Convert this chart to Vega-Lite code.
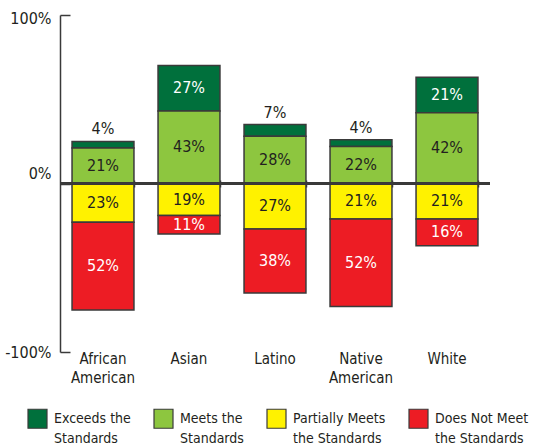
{
  "$schema": "https://vega.github.io/schema/vega-lite/v6.json",
  "width": 430,
  "height": 337,
  "autosize": {"type": "none"},
  "padding": {"left": 60, "top": 15, "right": 47, "bottom": 93},
  "background": "white",
  "config": {
    "font": "DejaVu Sans Condensed, Roboto",
    "view": {"stroke": null},
    "axis": {"labelFont": "DejaVu Sans Condensed, Roboto", "labelColor": "#231f20"},
    "legend": {"labelFont": "DejaVu Sans Condensed, Roboto", "labelColor": "#231f20"},
    "text": {"font": "DejaVu Sans Condensed, Roboto"}
  },
  "data": {
    "values": [
      {"group": "African American", "level": "Exceeds the Standards", "value": 4},
      {"group": "African American", "level": "Meets the Standards", "value": 21},
      {"group": "African American", "level": "Partially Meets the Standards", "value": -23},
      {"group": "African American", "level": "Does Not Meet the Standards", "value": -52},
      {"group": "Asian", "level": "Exceeds the Standards", "value": 27},
      {"group": "Asian", "level": "Meets the Standards", "value": 43},
      {"group": "Asian", "level": "Partially Meets the Standards", "value": -19},
      {"group": "Asian", "level": "Does Not Meet the Standards", "value": -11},
      {"group": "Latino", "level": "Exceeds the Standards", "value": 7},
      {"group": "Latino", "level": "Meets the Standards", "value": 28},
      {"group": "Latino", "level": "Partially Meets the Standards", "value": -27},
      {"group": "Latino", "level": "Does Not Meet the Standards", "value": -38},
      {"group": "Native American", "level": "Exceeds the Standards", "value": 4},
      {"group": "Native American", "level": "Meets the Standards", "value": 22},
      {"group": "Native American", "level": "Partially Meets the Standards", "value": -21},
      {"group": "Native American", "level": "Does Not Meet the Standards", "value": -52},
      {"group": "White", "level": "Exceeds the Standards", "value": 21},
      {"group": "White", "level": "Meets the Standards", "value": 42},
      {"group": "White", "level": "Partially Meets the Standards", "value": -21},
      {"group": "White", "level": "Does Not Meet the Standards", "value": -16}
    ]
  },
  "transform": [
    {"stack": "value", "groupby": ["group"], "sort": [{"field": "level", "order": "descending"}], "as": ["v0", "v1"]},
    {"calculate": "(datum.v0 + datum.v1) / 2", "as": "mid"},
    {"calculate": "abs(datum.value) + '%'", "as": "label"}
  ],
  "resolve": {"axis": {"x": "independent"}},
  "layer": [
    {
      "mark": {"type": "bar", "stroke": "#3a3a3a", "strokeWidth": 1.5},
      "encoding": {
        "x": {
          "field": "group", "type": "nominal", "sort": null,
          "scale": {"paddingInner": 0.28, "paddingOuter": 0.14},
          "axis": {
            "orient": "bottom", "title": null, "domain": false, "ticks": false,
            "labelAngle": 0, "labelPadding": -1, "labelFontSize": 15, "labelLineHeight": 19,
            "labelExpr": "split(datum.label, ' ')"
          }
        },
        "y": {
          "field": "v0", "type": "quantitative",
          "scale": {"domain": [-100, 100], "nice": false, "zero": false},
          "axis": {
            "title": null, "values": [-100, 0, 100], "grid": false,
            "labelExpr": "datum.value + '%'",
            "domain": true, "domainColor": "#3a3a3a", "domainWidth": 1.5,
            "tickColor": "#3a3a3a", "tickWidth": 1.5, "tickSize": -10,
            "labelPadding": 19, "labelFontSize": 16,
            "labelOffset": {"condition": [{"test": "datum.value === 0", "value": -10}, {"test": "datum.value === 100", "value": 3}], "value": 0}
          }
        },
        "y2": {"field": "v1"},
        "color": {
          "field": "level", "type": "nominal",
          "scale": {
            "domain": ["Exceeds the Standards", "Meets the Standards", "Partially Meets the Standards", "Does Not Meet the Standards"],
            "range": ["#00703c", "#8dc63f", "#fff200", "#ed1c24"]
          },
          "legend": {
            "title": null, "orient": "none", "legendX": -33, "legendY": 393,
            "direction": "horizontal", "columns": 4,
            "symbolType": "square", "symbolSize": 361,
            "symbolStrokeColor": "#3a3a3a", "symbolStrokeWidth": 1.2, "symbolOpacity": 1,
            "labelFontSize": 14, "labelLimit": 200, "labelOffset": 6, "columnPadding": 20,
            "labelBaseline": "alphabetic",
            "labelExpr": "datum.label == 'Exceeds the Standards' ? ['Exceeds the', 'Standards'] : datum.label == 'Meets the Standards' ? ['Meets the', 'Standards'] : datum.label == 'Partially Meets the Standards' ? ['Partially Meets', 'the Standards'] : ['Does Not Meet', 'the Standards']",
            "encode": {"labels": {"update": {"lineHeight": {"value": 20}, "dy": {"value": 4}}}}
          }
        }
      }
    },
    {
      "mark": {"type": "rule", "stroke": "#3a3a3a", "strokeWidth": 1.5},
      "encoding": {
        "y": {"datum": 0, "type": "quantitative", "axis": {"title": null}}
      }
    },
    {
      "transform": [{"filter": "!(datum.value > 0 && datum.value < 10)"}],
      "mark": {"type": "text", "fontSize": 16, "baseline": "middle", "align": "center"},
      "encoding": {
        "x": {
          "field": "group", "type": "nominal", "sort": null,
          "axis": {
            "orient": "top", "offset": -172, "title": null, "domain": false, "labels": false,
            "ticks": true, "tickBand": "extent", "tickSize": 7,
            "tickColor": "#3a3a3a", "tickWidth": 1.5
          }
        },
        "y": {"field": "mid", "type": "quantitative", "axis": {"title": null}},
        "text": {"field": "label"},
        "color": {
          "condition": {"test": "datum.level === 'Exceeds the Standards' || datum.level === 'Does Not Meet the Standards'", "value": "#ffffff"},
          "value": "#231f20"
        }
      }
    },
    {
      "transform": [{"filter": "datum.value > 0 && datum.value < 10"}],
      "mark": {"type": "text", "fontSize": 16, "baseline": "middle", "align": "center", "dy": -12, "color": "#231f20"},
      "encoding": {
        "x": {"field": "group", "type": "nominal", "sort": null, "axis": null},
        "y": {"field": "v1", "type": "quantitative", "axis": {"title": null}},
        "text": {"field": "label"}
      }
    }
  ]
}
